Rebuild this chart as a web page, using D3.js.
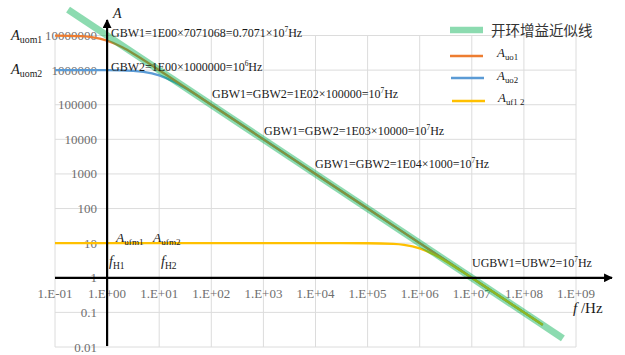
<!DOCTYPE html>
<html><head><meta charset="utf-8">
<script src="https://cdn.jsdelivr.net/npm/d3@7"></script>
<style>body{margin:0;background:#fff}svg{display:block}</style>
</head><body><svg id="c" width="625" height="355"></svg>
<script>
// ---- data ----
const xTicks = [0.1,1,10,100,1e3,1e4,1e5,1e6,1e7,1e8,1e9];
const xTickLabels = ["1.E-01","1.E+00","1.E+01","1.E+02","1.E+03","1.E+04","1.E+05","1.E+06","1.E+07","1.E+08","1.E+09"];
const yTicks = [0.01,0.1,1,10,100,1000,10000,100000,1000000,10000000];
const yTickLabels = ["0.01","0.1","1","10","100","1000","10000","100000","1000000","10000000"];

const freqOL = [0.178, 5.6e8];
const aOL = [5.6e7, 0.0178];

const freqUo1 = [0.1,0.316,0.5,1,2,3.16,10,100,1e3,1e4,1e5,1e6,1e7,1e8,2.3e8];
const aUo1 = [9950000,9540000,8940000,7070000,4470000,3020000,995000,100000,10000,1000,100,10,1,0.1,0.0435];

const freqUo2 = [0.1,1,3.16,5,10,20,31.6,100,1e3,1e4,1e5,1e6,1e7,1e8,2.3e8];
const aUo2 = [1000000,995000,953000,894000,707000,447000,302000,99500,10000,1000,100,10,1,0.1,0.0435];

const freqUf = [0.1,1,10,100,1e3,1e4,1e5,3.16e5,5e5,1e6,2e6,3.16e6,1e7,1e8,2.3e8];
const aUf = [10,10,10,10,10,10,9.95,9.54,8.94,7.07,4.47,3.02,0.995,0.1,0.0435];

// ---- drawing ----
const svg = d3.select("#c");
const x = d3.scaleLog().domain([0.1,1e9]).range([55,576]);
const y = d3.scaleLog().domain([0.01,1e7]).range([347,35.5]);
const serif = "'Liberation Serif','Times New Roman',serif";

// grid
svg.append("g").selectAll("line").data(xTicks).join("line")
  .attr("x1",d=>x(d)).attr("x2",d=>x(d)).attr("y1",y(1e7)).attr("y2",y(0.01))
  .attr("stroke","#dcdcdc").attr("stroke-width",1);
svg.append("g").selectAll("line").data(yTicks).join("line")
  .attr("x1",x(0.1)).attr("x2",x(1e9)).attr("y1",d=>y(d)).attr("y2",d=>y(d))
  .attr("stroke","#dcdcdc").attr("stroke-width",1);

// tick labels
svg.append("g").selectAll("text").data(yTicks).join("text")
  .attr("x",97).attr("y",d=>y(d)).attr("dy","0.35em").attr("text-anchor","end")
  .attr("font-family",serif).attr("font-size",13).attr("fill","#6e6e6e")
  .text((d,i)=>yTickLabels[i]);
svg.append("g").selectAll("text").data(xTicks).join("text")
  .attr("x",d=>x(d)).attr("y",298).attr("text-anchor","middle")
  .attr("font-family",serif).attr("font-size",13).attr("fill","#6e6e6e")
  .text((d,i)=>xTickLabels[i]);

const line = d3.line().x(d=>x(d[0])).y(d=>y(d[1])).curve(d3.curveMonotoneX);
const zip = (a,b)=>a.map((v,i)=>[v,b[i]]);

svg.append("path").datum(zip(freqUo2,aUo2)).attr("d",line).attr("fill","none").attr("stroke","#5B9BD5").attr("stroke-width",2.3);
svg.append("path").datum(zip(freqUo1,aUo1)).attr("d",line).attr("fill","none").attr("stroke","#ED7D31").attr("stroke-width",2.3);
svg.append("path").datum(zip(freqUf,aUf)).attr("d",line).attr("fill","none").attr("stroke","#FFC000").attr("stroke-width",2.3);
svg.append("path").datum(zip(freqOL,aOL)).attr("d",d3.line().x(d=>x(d[0])).y(d=>y(d[1])))
  .attr("fill","none").attr("stroke","#00B050").attr("stroke-opacity",0.45).attr("stroke-width",7);

// axes arrows
const defs = svg.append("defs");
defs.append("marker").attr("id","arr").attr("viewBox","0 0 10 10").attr("refX",9).attr("refY",5)
  .attr("markerWidth",4).attr("markerHeight",4).attr("markerUnits","strokeWidth").attr("orient","auto")
  .append("path").attr("d","M0,0L10,5L0,10Z").attr("fill","#000");
svg.append("line").attr("x1",x(0.1)).attr("x2",612).attr("y1",y(1)).attr("y2",y(1))
  .attr("stroke","#000").attr("stroke-width",2.2).attr("marker-end","url(#arr)");
svg.append("line").attr("x1",x(1)).attr("x2",x(1)).attr("y1",346).attr("y2",20)
  .attr("stroke","#000").attr("stroke-width",2.2).attr("marker-end","url(#arr)");

// helper for rich text
function rich(xp, yp, parts, size, anchor){
  const t = svg.append("text").attr("x",xp).attr("y",yp).attr("font-family",serif)
    .attr("font-size",size).attr("fill","#1a1a1a").attr("text-anchor",anchor||"start");
  parts.forEach(p=>{
    const s = t.append("tspan").text(p.t);
    if(p.i) s.attr("font-style","italic");
    if(p.sub){ s.attr("font-size",size*0.68).attr("dy",p.dy!==undefined?p.dy:3); }
    if(p.sup){ s.attr("font-size",size*0.62).attr("dy",-5); }
    if(p.back!==undefined){ s.attr("dy",p.back); }
  });
  return t;
}
function gbw(xp,yp,pre){
  rich(xp,yp,[{t:pre},{t:"7",sup:1},{t:"Hz",back:5}],12);
}
rich(113,18,[{t:"A",i:1}],14);
rich(11,40,[{t:"A",i:1},{t:"uom1",sub:1}],14.5);
rich(11,74,[{t:"A",i:1},{t:"uom2",sub:1}],14.5);
rich(111,37,[{t:"GBW1=1E00×7071068=0.7071×10"},{t:"7",sup:1},{t:"Hz",back:5}],12);
rich(111,71,[{t:"GBW2=1E00×1000000=10"},{t:"6",sup:1},{t:"Hz",back:5}],12);
gbw(212,98,"GBW1=GBW2=1E02×100000=10");
gbw(264,135,"GBW1=GBW2=1E03×10000=10");
gbw(315,168,"GBW1=GBW2=1E04×1000=10");
rich(472,267,[{t:"UGBW1=UBW2=10"},{t:"7",sup:1},{t:"Hz",back:5}],12);
rich(116,242,[{t:"A",i:1},{t:"ufm1",sub:1}],13.5);
rich(153,242,[{t:"A",i:1},{t:"ufm2",sub:1}],13.5);
rich(109,266,[{t:"f",i:1},{t:"H1",sub:1}],14);
rich(161,266,[{t:"f",i:1},{t:"H2",sub:1}],14);
rich(573,313,[{t:"f",i:1},{t:" /Hz"}],15);

// legend
const lg = svg.append("g");
lg.append("line").attr("x1",450).attr("x2",483).attr("y1",30).attr("y2",30).attr("stroke","#00B050").attr("stroke-opacity",0.45).attr("stroke-width",6.5);
lg.append("line").attr("x1",450).attr("x2",483).attr("y1",56).attr("y2",56).attr("stroke","#ED7D31").attr("stroke-width",2.5);
lg.append("line").attr("x1",451).attr("x2",484).attr("y1",78).attr("y2",78).attr("stroke","#5B9BD5").attr("stroke-width",2.5);
lg.append("line").attr("x1",452).attr("x2",485).attr("y1",101).attr("y2",101).attr("stroke","#FFC000").attr("stroke-width",2.5);
lg.append("text").attr("x",491).attr("y",36).attr("font-family","'Noto Sans CJK SC',sans-serif")
  .attr("font-size",14.5).attr("fill","#333").text("开环增益近似线");
rich(497,57,[{t:"A",i:1},{t:"uo1",sub:1}],13);
rich(497,80,[{t:"A",i:1},{t:"uo2",sub:1}],13);
rich(498,102,[{t:"A",i:1},{t:"uf1  2",sub:1}],13);
</script></body></html>
